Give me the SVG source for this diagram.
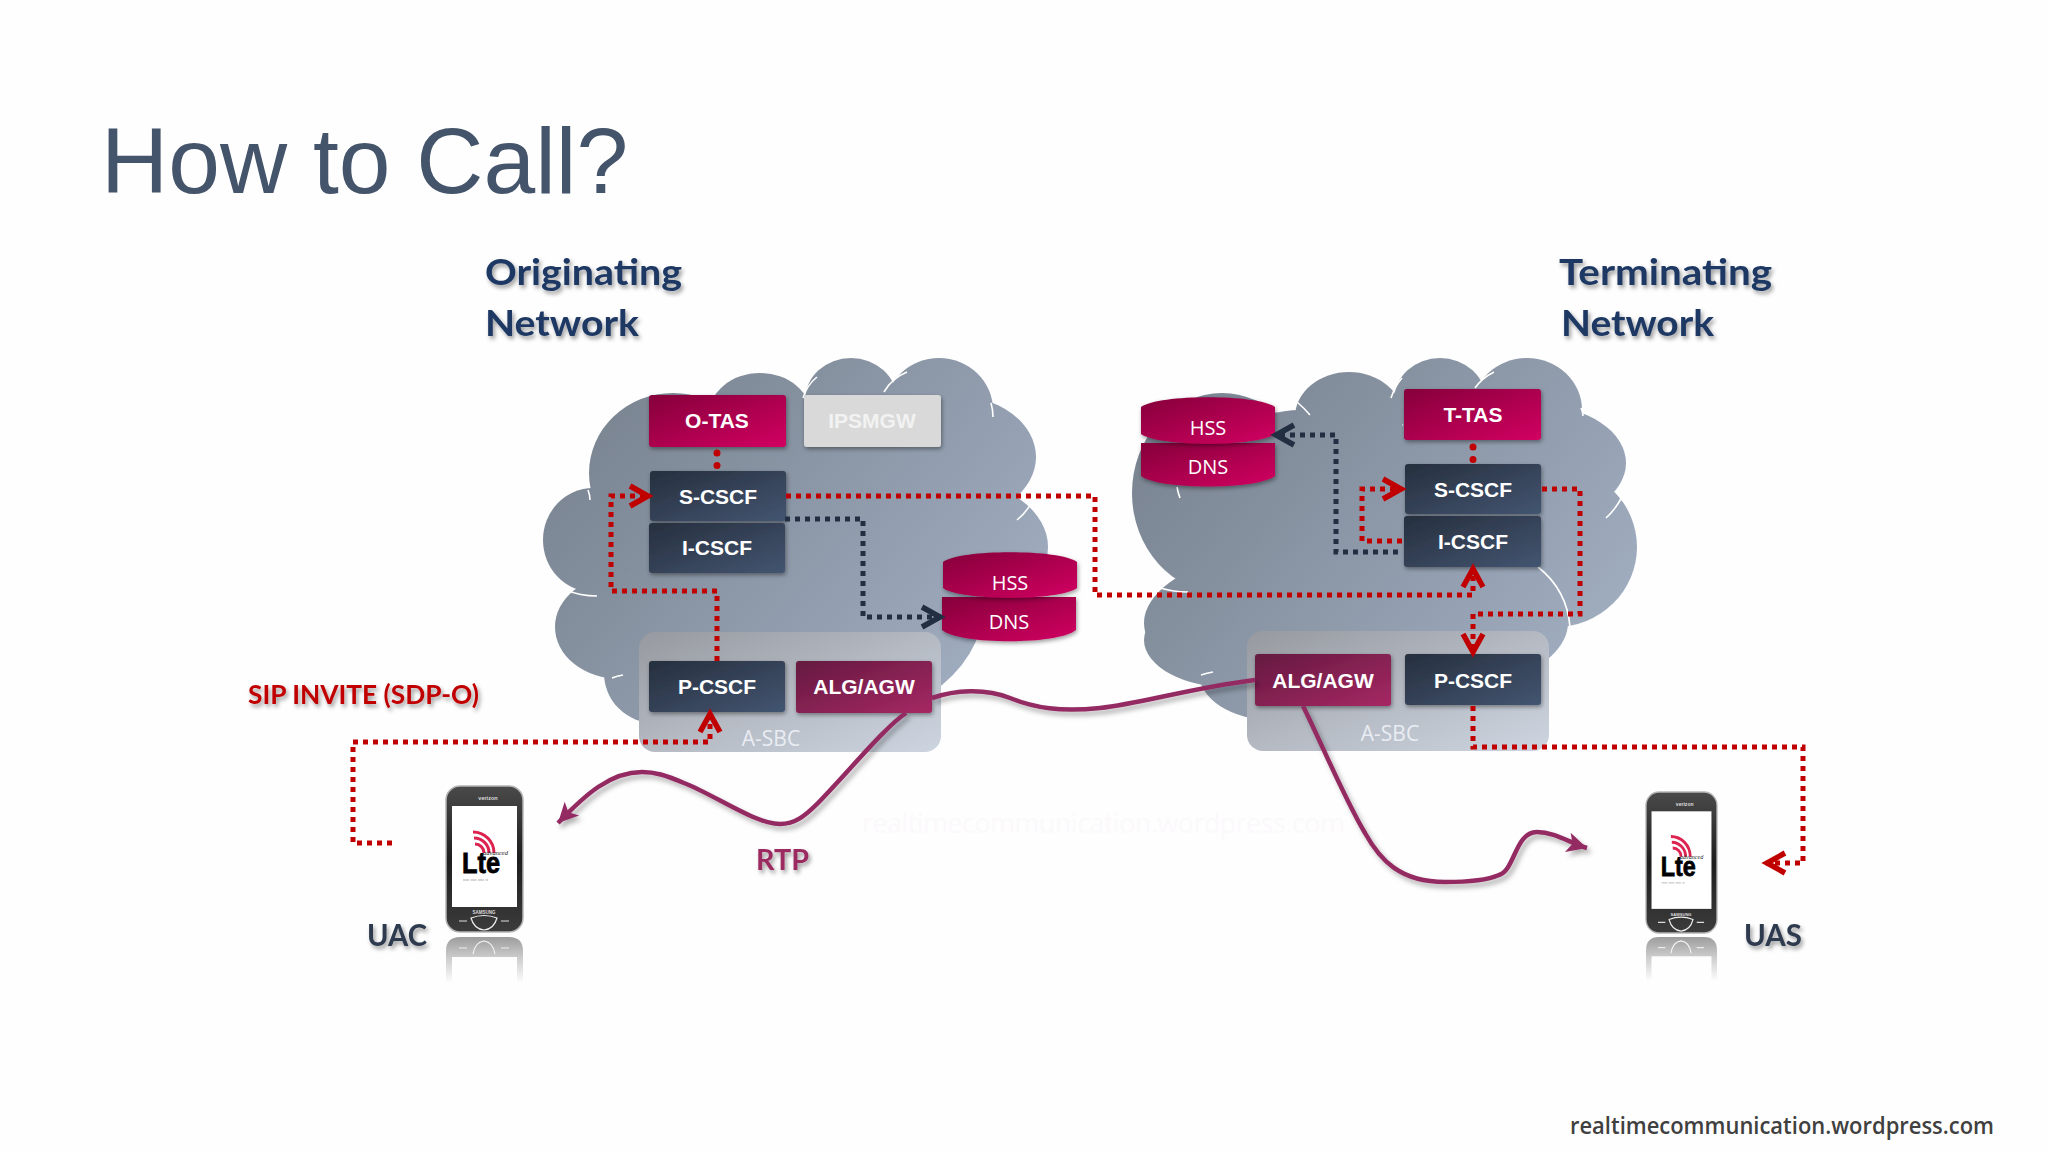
<svg xmlns="http://www.w3.org/2000/svg" width="2048" height="1152" viewBox="0 0 2048 1152">
<style>
.n{font:bold 21px "Liberation Sans",Arial,sans-serif;fill:#fff;text-anchor:middle}
.db{font:20px "Open Sans",sans-serif;fill:#fff;text-anchor:middle}
.sbc{font:21px "Open Sans",sans-serif;fill:#e9edf3;text-anchor:middle}
.lab{font-family:Lato,"Open Sans",sans-serif;font-weight:700;filter:url(#ts)}
.red{fill:none;stroke:#c00000;stroke-width:5;stroke-dasharray:5 5}
.dark{fill:none;stroke:#222f42;stroke-width:5;stroke-dasharray:5 5}
.dot{fill:none;stroke:#c00000;stroke-width:7;stroke-linecap:round;stroke-dasharray:0 12.5}
.rtp{fill:none;stroke:#932a62;stroke-width:4.5}
.arc{fill:none;stroke:#fff;stroke-width:1.6}
.box{filter:url(#ns)}
</style>
<defs>
<linearGradient id="gr" x1="0" y1="0" x2="1" y2="1"><stop offset="0" stop-color="#85003a"/><stop offset="1" stop-color="#d20062"/></linearGradient>
<linearGradient id="gd" x1="0" y1="0" x2="1" y2="1"><stop offset="0" stop-color="#262f3e"/><stop offset="1" stop-color="#435571"/></linearGradient>
<linearGradient id="ga" x1="0" y1="0" x2="1" y2="1"><stop offset="0" stop-color="#641a40"/><stop offset="1" stop-color="#a62864"/></linearGradient>
<linearGradient id="gp" x1="0" y1="0" x2="1" y2="1"><stop offset="0" stop-color="#96999f"/><stop offset=".5" stop-color="#b4b9c2"/><stop offset="1" stop-color="#cdd5e0"/></linearGradient>
<linearGradient id="c1" gradientUnits="userSpaceOnUse" x1="600" y1="360" x2="1000" y2="700"><stop offset="0" stop-color="#78828f"/><stop offset="1" stop-color="#a2afc2"/></linearGradient>
<linearGradient id="c2" gradientUnits="userSpaceOnUse" x1="1170" y1="360" x2="1590" y2="700"><stop offset="0" stop-color="#78828f"/><stop offset="1" stop-color="#a2afc2"/></linearGradient>
<linearGradient id="pb" x1="0" y1="0" x2="0" y2="1"><stop offset="0" stop-color="#4a4a4a"/><stop offset=".5" stop-color="#1e1e1e"/><stop offset="1" stop-color="#3c3c3c"/></linearGradient>
<linearGradient id="rf" x1="0" y1="0" x2="0" y2="1"><stop offset="0" stop-color="#8c8c8c"/><stop offset=".45" stop-color="#c4c4c4"/><stop offset="1" stop-color="#fff"/></linearGradient>
<filter id="ns" x="-10%" y="-15%" width="120%" height="135%"><feDropShadow dx="1" dy="2" stdDeviation="2" flood-color="#000" flood-opacity=".4"/></filter>
<filter id="ts" x="-10%" y="-20%" width="125%" height="150%"><feDropShadow dx="2" dy="3" stdDeviation="2" flood-color="#000" flood-opacity=".4"/></filter>
<filter id="ls" x="-10%" y="-10%" width="120%" height="125%"><feDropShadow dx="3" dy="4" stdDeviation="2.5" flood-color="#000" flood-opacity=".3"/></filter>
<marker id="ar" viewBox="-26 -16 32 32" refX="0" refY="0" markerWidth="32" markerHeight="32" markerUnits="userSpaceOnUse" orient="auto" overflow="visible"><path d="M-19 -10 L-1 0 L-19 10" fill="none" stroke="#c00000" stroke-width="5.5"/></marker>
<marker id="ad" viewBox="-26 -16 32 32" refX="0" refY="0" markerWidth="32" markerHeight="32" markerUnits="userSpaceOnUse" orient="auto" overflow="visible"><path d="M-19 -10 L-1 0 L-19 10" fill="none" stroke="#222f42" stroke-width="5.5"/></marker>
<marker id="at" viewBox="-24 -14 28 28" refX="0" refY="0" markerWidth="28" markerHeight="28" markerUnits="userSpaceOnUse" orient="auto" overflow="visible"><path d="M0 0 L-20 -10 L-15 0 L-20 10 Z" fill="#932a62"/></marker>
<g id="phone">
<rect x="0" y="0" width="77" height="146" rx="14" fill="url(#pb)" stroke="#b5b5b5" stroke-width="1.5"/>
<rect x="6" y="20" width="65" height="101" fill="#fff"/>
<text x="42" y="14" font-family="Liberation Sans,sans-serif" font-size="5.5" font-weight="bold" fill="#ddd" text-anchor="middle">verizon</text>
<text x="38" y="128" font-family="Liberation Sans,sans-serif" font-size="4.5" font-weight="bold" fill="#ddd" text-anchor="middle">SAMSUNG</text>
<path d="M25 132 Q38 127 51 132 Q48 143 38 144 Q28 143 25 132Z" fill="none" stroke="#eee" stroke-width="1.2"/>
<path d="M13 135 H21 M55 135 H63" stroke="#ddd" stroke-width="1.2"/>
<path d="M27 46 A21 21 0 0 1 48 67 M28 52 A15 15 0 0 1 43 67 M29 58 A9 9 0 0 1 38 67" fill="none" stroke="#dd2350" stroke-width="3"/>
<text x="16" y="87" font-family="Liberation Sans,sans-serif" font-size="29" font-weight="bold" fill="#000" stroke="#000" stroke-width=".8" textLength="38" lengthAdjust="spacingAndGlyphs">Lte</text>
<text x="37" y="69" font-family="Liberation Serif,serif" font-size="6" font-style="italic" fill="#222" textLength="25" lengthAdjust="spacingAndGlyphs">advanced</text>
<path d="M17 94 H42" stroke="#c8c8c8" stroke-width="1.3" stroke-dasharray="6 1.5"/>
</g>
<g id="refl" opacity=".85">
<path d="M0 46 V14 Q0 0 14 0 H63 Q77 0 77 14 V46 Z" fill="url(#rf)"/>
<rect x="6" y="20" width="65" height="27" fill="#fff"/>
<path d="M27 17 Q29 5 38 4 Q47 5 49 17" fill="none" stroke="#f4f4f4" stroke-width="1.2"/>
<path d="M13 11 H21 M55 11 H63" stroke="#e8e8e8" stroke-width="1.2"/>
</g>
</defs>
<rect width="2048" height="1152" fill="#fefefe"/>
<text x="101" y="193" font-family="Liberation Sans,Arial,sans-serif" font-size="93" fill="#44546a">How to Call?</text>
<text x="862" y="833" font-family="Open Sans,sans-serif" font-size="27" fill="#fcf9fc" textLength="483">realtimecommunication.wordpress.com</text>

<g id="cloud-originating" fill="url(#c1)">
<ellipse cx="673" cy="473" rx="84" ry="80"/><ellipse cx="760" cy="417" rx="52" ry="44"/><ellipse cx="851" cy="400" rx="46" ry="42"/><ellipse cx="939" cy="410" rx="54" ry="52"/><ellipse cx="952" cy="457" rx="84" ry="62"/><ellipse cx="960" cy="547" rx="88" ry="65"/><ellipse cx="803" cy="607" rx="180" ry="123"/><ellipse cx="593" cy="540" rx="50" ry="52"/><ellipse cx="620" cy="627" rx="65" ry="52"/><ellipse cx="654" cy="673" rx="50" ry="50"/><ellipse cx="788" cy="507" rx="190" ry="105"/>
<path class="arc" d="M803 398Q807 385 817 377M884 392Q892 378 907 372M993 417Q993 410 991 403M1033 500Q1027 512 1017 520M590 500Q590 495 588 490M566 590Q580 596 597 596M612 678Q617 676 623 675"/>
</g>
<g id="cloud-terminating" fill="url(#c2)">
<ellipse cx="1222" cy="493" rx="90" ry="100"/><ellipse cx="1349" cy="417" rx="54" ry="45"/><ellipse cx="1440" cy="400" rx="46" ry="42"/><ellipse cx="1527" cy="410" rx="55" ry="52"/><ellipse cx="1540" cy="463" rx="86" ry="57"/><ellipse cx="1555" cy="547" rx="82" ry="80"/><ellipse cx="1356" cy="623" rx="212" ry="85"/><ellipse cx="1234" cy="640" rx="90" ry="48"/><ellipse cx="1272" cy="673" rx="73" ry="47"/><ellipse cx="1390" cy="525" rx="175" ry="100"/><ellipse cx="1300" cy="470" rx="80" ry="60"/>
<path class="arc" d="M1391 398Q1395 386 1402 378M1475 388Q1482 378 1494 372M1583 416Q1583 412 1581 408M1622 497Q1615 510 1606 518M1177 487Q1178 493 1180 498M1310 415Q1304 408 1297 402M1157 587Q1172 592 1188 592M1201 675Q1207 673 1213 672M1538 567Q1567 590 1570 627"/>
</g>

<g id="asbc-o"><rect x="639" y="632" width="302" height="120" rx="16" fill="url(#gp)"/><text class="sbc" x="771" y="746">A-SBC</text></g>
<g id="asbc-t"><rect x="1247" y="631" width="302" height="120" rx="16" fill="url(#gp)"/><text class="sbc" x="1390" y="741">A-SBC</text></g>

<g id="o-tas"><rect class="box" x="649" y="395" width="137" height="52" rx="3" fill="url(#gr)"/><text class="n" x="717" y="428">O-TAS</text></g>
<g id="ipsmgw"><rect class="box" x="804" y="395" width="137" height="52" rx="3" fill="#d9d9d9"/><text class="n" x="872" y="428" style="fill:#f2f2f2">IPSMGW</text></g>
<g id="s-cscf-o"><rect class="box" x="650" y="471" width="136" height="50" rx="3" fill="url(#gd)"/><text class="n" x="718" y="504">S-CSCF</text></g>
<g id="i-cscf-o"><rect class="box" x="649" y="523" width="136" height="50" rx="3" fill="url(#gd)"/><text class="n" x="717" y="555">I-CSCF</text></g>
<g id="p-cscf-o"><rect class="box" x="649" y="661" width="136" height="51" rx="3" fill="url(#gd)"/><text class="n" x="717" y="694">P-CSCF</text></g>
<g id="alg-o"><rect class="box" x="796" y="661" width="136" height="52" rx="3" fill="url(#ga)"/><text class="n" x="864" y="694">ALG/AGW</text></g>
<g id="dns-o"><path class="box" d="M942 597V630C960 645 1058 645 1076 630V597Z" fill="url(#gr)"/><text class="db" x="1009" y="629">DNS</text></g>
<g id="hss-o"><path class="box" d="M943 562C960 549 1060 549 1077 562V588C1060 601 960 601 943 588Z" fill="url(#gr)"/><text class="db" x="1010" y="590">HSS</text></g>

<g id="t-tas"><rect class="box" x="1404" y="389" width="137" height="51" rx="3" fill="url(#gr)"/><text class="n" x="1473" y="422">T-TAS</text></g>
<g id="s-cscf-t"><rect class="box" x="1405" y="464" width="136" height="50" rx="3" fill="url(#gd)"/><text class="n" x="1473" y="497">S-CSCF</text></g>
<g id="i-cscf-t"><rect class="box" x="1404" y="516" width="137" height="51" rx="3" fill="url(#gd)"/><text class="n" x="1473" y="549">I-CSCF</text></g>
<g id="alg-t"><rect class="box" x="1255" y="654" width="136" height="52" rx="3" fill="url(#ga)"/><text class="n" x="1323" y="688">ALG/AGW</text></g>
<g id="p-cscf-t"><rect class="box" x="1405" y="654" width="136" height="51" rx="3" fill="url(#gd)"/><text class="n" x="1473" y="688">P-CSCF</text></g>
<g id="dns-t"><path class="box" d="M1141 443V476C1159 490 1257 490 1275 476V443Z" fill="url(#gr)"/><text class="db" x="1208" y="474">DNS</text></g>
<g id="hss-t"><path class="box" d="M1141 407C1159 394 1257 394 1275 407V434C1257 447 1159 447 1141 434Z" fill="url(#gr)"/><text class="db" x="1208" y="435">HSS</text></g>

<g id="phone-uac"><use href="#phone" transform="translate(446,786)"/><use href="#refl" transform="translate(446,937)"/></g>
<g id="phone-uas"><use href="#phone" transform="translate(1646,792) scale(.922,.966)"/><use href="#refl" transform="translate(1646,937) scale(.922,.966)"/></g>

<g id="connectors">
<path class="dot" d="M717 453V468"/>
<path class="dot" d="M1473 447V460"/>
<path class="red" d="M717 661V591H611V496H649" marker-end="url(#ar)"/>
<path class="red" d="M786 496H1095V595H1473V568" marker-end="url(#ar)"/>
<path class="dark" d="M785 519H863V617H941" marker-end="url(#ad)"/>
<path class="dark" d="M1398 552H1336V435H1275" marker-end="url(#ad)"/>
<path class="red" d="M1402 541H1362V489H1402" marker-end="url(#ar)"/>
<path class="red" d="M1542 489H1580V614H1473V653" marker-end="url(#ar)"/>
<path class="red" d="M1473 706V747H1803V863H1766" marker-end="url(#ar)"/>
<path class="red" d="M392 843H353V742H710V713" marker-end="url(#ar)"/>
<g filter="url(#ls)">
<path class="rtp" d="M932 698C955 690 985 688 1010 698S1060 712 1100 708S1190 688 1255 680"/>
<path class="rtp" d="M906 713C885 727 850 770 818 803C805 816 795 824 780 824C755 824 715 795 684 783C665 775 655 772 642 772C610 772 585 795 558 823" marker-end="url(#at)"/>
<path class="rtp" d="M1303 706C1320 740 1345 800 1365 833C1380 860 1400 882 1445 882C1470 882 1490 879 1499 875C1515 870 1515 832 1537 832C1555 832 1570 843 1587 848" marker-end="url(#at)"/>
</g>
</g>

<g id="labels">
<text class="lab" x="485" y="285" font-size="36" fill="#1f3864" textLength="197" lengthAdjust="spacingAndGlyphs">Originating</text>
<text class="lab" x="485" y="336" font-size="36" fill="#1f3864" textLength="154" lengthAdjust="spacingAndGlyphs">Network</text>
<text class="lab" x="1559" y="285" font-size="36" fill="#1f3864" textLength="213" lengthAdjust="spacingAndGlyphs">Terminating</text>
<text class="lab" x="1561" y="336" font-size="36" fill="#1f3864" textLength="153" lengthAdjust="spacingAndGlyphs">Network</text>
<text class="lab" x="248" y="704" font-size="26" fill="#c00000" textLength="231" lengthAdjust="spacingAndGlyphs">SIP INVITE (SDP-O)</text>
<text class="lab" x="756" y="870" font-size="29" fill="#9b2a60" textLength="53" lengthAdjust="spacingAndGlyphs">RTP</text>
<text class="lab" x="367" y="946" font-size="30" fill="#2f3b50" textLength="60" lengthAdjust="spacingAndGlyphs">UAC</text>
<text class="lab" x="1744" y="946" font-size="30" fill="#2f3b50" textLength="58" lengthAdjust="spacingAndGlyphs">UAS</text>
</g>
<text x="1570" y="1134" font-family="Open Sans,sans-serif" font-weight="600" font-size="23" fill="#404040" textLength="424" lengthAdjust="spacingAndGlyphs">realtimecommunication.wordpress.com</text>
</svg>
